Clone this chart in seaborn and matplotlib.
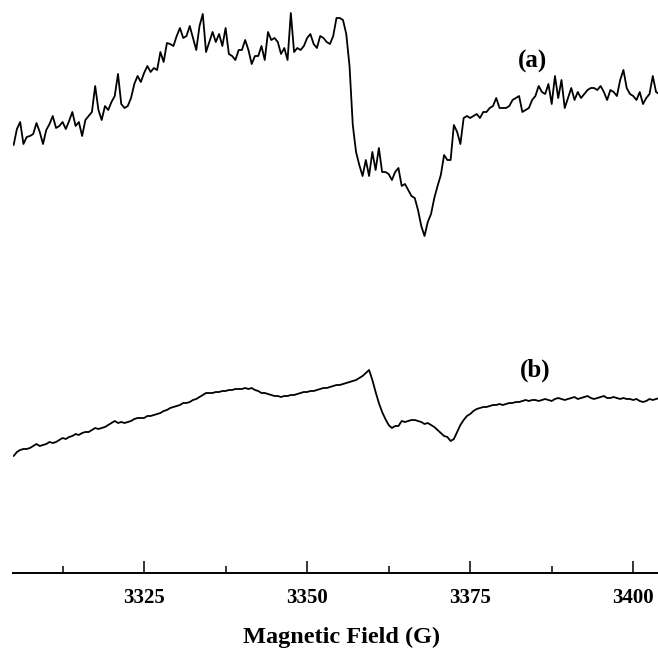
import numpy as np
import pandas as pd
import matplotlib
matplotlib.use("Agg")
import matplotlib.pyplot as plt
import seaborn as sns

# Magnetic field sweep (G)
field = [
    3305.0, 3305.5, 3306.0, 3306.5, 3307.0, 3307.5, 3308.0, 3308.5, 3309.0, 3309.5,
    3310.0, 3310.5, 3311.0, 3311.5, 3312.0, 3312.5, 3313.0, 3313.5, 3314.0, 3314.5,
    3315.0, 3315.5, 3316.0, 3316.5, 3317.0, 3317.5, 3318.0, 3318.5, 3319.0, 3319.5,
    3320.0, 3320.5, 3321.0, 3321.5, 3322.0, 3322.5, 3323.0, 3323.5, 3324.0, 3324.5,
    3325.0, 3325.5, 3326.0, 3326.5, 3327.0, 3327.5, 3328.0, 3328.5, 3329.0, 3329.5,
    3330.0, 3330.5, 3331.0, 3331.5, 3332.0, 3332.5, 3333.0, 3333.5, 3334.0, 3334.5,
    3335.0, 3335.5, 3336.0, 3336.5, 3337.0, 3337.5, 3338.0, 3338.5, 3339.0, 3339.5,
    3340.0, 3340.5, 3341.0, 3341.5, 3342.0, 3342.5, 3343.0, 3343.5, 3344.0, 3344.5,
    3345.0, 3345.5, 3346.0, 3346.5, 3347.0, 3347.5, 3348.0, 3348.5, 3349.0, 3349.5,
    3350.0, 3350.5, 3351.0, 3351.5, 3352.0, 3352.5, 3353.0, 3353.5, 3354.0, 3354.5,
    3355.0, 3355.5, 3356.0, 3356.5, 3357.0, 3357.5, 3358.0, 3358.5, 3359.0, 3359.5,
    3360.0, 3360.5, 3361.0, 3361.5, 3362.0, 3362.5, 3363.0, 3363.5, 3364.0, 3364.5,
    3365.0, 3365.5, 3366.0, 3366.5, 3367.0, 3367.5, 3368.0, 3368.5, 3369.0, 3369.5,
    3370.0, 3370.5, 3371.0, 3371.5, 3372.0, 3372.5, 3373.0, 3373.5, 3374.0, 3374.5,
    3375.0, 3375.5, 3376.0, 3376.5, 3377.0, 3377.5, 3378.0, 3378.5, 3379.0, 3379.5,
    3380.0, 3380.5, 3381.0, 3381.5, 3382.0, 3382.5, 3383.0, 3383.5, 3384.0, 3384.5,
    3385.0, 3385.5, 3386.0, 3386.5, 3387.0, 3387.5, 3388.0, 3388.5, 3389.0, 3389.5,
    3390.0, 3390.5, 3391.0, 3391.5, 3392.0, 3392.5, 3393.0, 3393.5, 3394.0, 3394.5,
    3395.0, 3395.5, 3396.0, 3396.5, 3397.0, 3397.5, 3398.0, 3398.5, 3399.0, 3399.5,
    3400.0, 3400.5, 3401.0, 3401.5, 3402.0, 3402.5, 3403.0, 3403.5, 3404.0,
]

# Spectrum (a), arbitrary units
signal_a = [
    428, 444, 451, 429, 436, 437, 439, 450, 441, 429,
    443, 449, 457, 445, 447, 451, 444, 452, 461, 447,
    451, 437, 453, 457, 461, 487, 463, 453, 467, 463,
    471, 477, 499, 469, 465, 467, 475, 489, 497, 491,
    500, 507, 501, 505, 503, 521, 511, 530, 529, 527,
    537, 545, 535, 537, 547, 535, 523, 547, 559, 521,
    531, 541, 531, 539, 527, 545, 519, 517, 513, 523,
    523, 533, 523, 509, 517, 517, 527, 513, 541, 533,
    535, 531, 519, 525, 513, 560, 521, 525, 523, 527,
    535, 539, 529, 525, 537, 535, 531, 529, 537, 555,
    555, 553, 539, 507, 448, 421, 408, 397, 413, 397,
    421, 403, 425, 401, 401, 399, 393, 401, 405, 387,
    389, 383, 377, 375, 363, 347, 337, 351, 359, 375,
    387, 398, 418, 413, 413, 448, 441, 429, 455, 457,
    455, 457, 459, 455, 461, 461, 465, 467, 475, 465,
    465, 465, 467, 473, 475, 477, 461, 463, 465, 473,
    477, 487, 481, 479, 489, 469, 497, 475, 493, 465,
    475, 485, 473, 481, 475, 479, 483, 485, 485, 483,
    487, 481, 473, 483, 481, 477, 493, 503, 485, 479,
    477, 473, 481, 469, 475, 479, 497, 481, 479,
]

# Spectrum (b), arbitrary units
signal_b = [
    117, 121, 123, 124, 124, 125, 127, 129, 127, 128,
    129, 131, 130, 131, 133, 135, 134, 136, 137, 139,
    138, 140, 141, 141, 143, 145, 144, 145, 146, 148,
    150, 152, 150, 151, 150, 151, 152, 154, 155, 155,
    155, 157, 157, 158, 159, 160, 162, 163, 165, 166,
    167, 168, 170, 170, 171, 173, 174, 176, 178, 180,
    180, 180, 181, 181, 182, 182, 183, 183, 184, 184,
    184, 185, 184, 185, 183, 182, 180, 180, 179, 178,
    177, 177, 176, 177, 177, 178, 178, 179, 180, 181,
    181, 182, 182, 183, 184, 185, 185, 186, 187, 188,
    188, 189, 190, 191, 192, 193, 195, 197, 200, 203,
    193, 181, 170, 161, 154, 148, 145, 147, 147, 152,
    151, 152, 153, 153, 152, 151, 149, 150, 148, 146,
    143, 140, 137, 136, 132, 134, 141, 148, 153, 157,
    159, 162, 164, 165, 166, 166, 167, 168, 168, 169,
    168, 169, 170, 170, 171, 171, 172, 173, 172, 173,
    173, 172, 173, 174, 173, 172, 174, 175, 174, 173,
    174, 175, 176, 174, 175, 176, 177, 175, 174, 175,
    176, 177, 175, 175, 176, 175, 174, 175, 174, 174,
    173, 174, 172, 171, 172, 174, 173, 174, 175,
]

major_ticks = [3325, 3350, 3375, 3400]
minor_ticks = [3312.5, 3337.5, 3362.5, 3387.5]
trace_labels = ["(a)", "(b)"]
label_pos_field = [3384.5, 3385.0]
label_pos_signal = [512, 203]

sns.set_theme(style="white")
plt.rcParams["font.family"] = ["Liberation Serif", "DejaVu Serif"]
plt.rcParams["text.color"] = "black"
plt.rcParams["axes.labelcolor"] = "black"
plt.rcParams["xtick.color"] = "black"
plt.rcParams["xtick.labelcolor"] = "black"

df = pd.DataFrame({
    "field": field * 2,
    "signal": signal_a + signal_b,
    "trace": ["a"] * len(field) + ["b"] * len(field),
})

fig = plt.figure(figsize=(6.58, 6.54), dpi=100)
ax = fig.add_axes([13 / 658, 81 / 654, 645 / 658, 573 / 654])

sns.lineplot(data=df, x="field", y="signal", units="trace", estimator=None,
             color="black", linewidth=1.3, ax=ax, sort=False)

ax.set_xlim(3304.9, 3403.8)
ax.set_ylim(0, 573)

for s in ["left", "right", "top"]:
    ax.spines[s].set_visible(False)
ax.spines["bottom"].set_linewidth(1.4)
ax.spines["bottom"].set_color("black")

ax.set_xticks(major_ticks)
ax.set_xticks(minor_ticks, minor=True)
ax.set_xticklabels([str(t) for t in major_ticks], fontsize=15, fontweight="bold",
                   color="black")
ax.tick_params(axis="x", which="major", direction="in", length=9, width=1.1,
               color="black", pad=11, bottom=True)
ax.tick_params(axis="x", which="minor", direction="in", length=5, width=1.1,
               color="black", bottom=True)
ax.set_yticks([])
ax.set_ylabel("")
ax.set_xlabel("Magnetic Field (G)", fontsize=17.5, fontweight="bold", color="black")
ax.xaxis.set_label_coords(0.51, -0.094)

for lab, fx, sy in zip(trace_labels, label_pos_field, label_pos_signal):
    ax.text(fx, sy, lab, fontsize=18, fontweight="bold", ha="center", va="center",
            color="black")

fig.savefig("out.png", dpi=100)
